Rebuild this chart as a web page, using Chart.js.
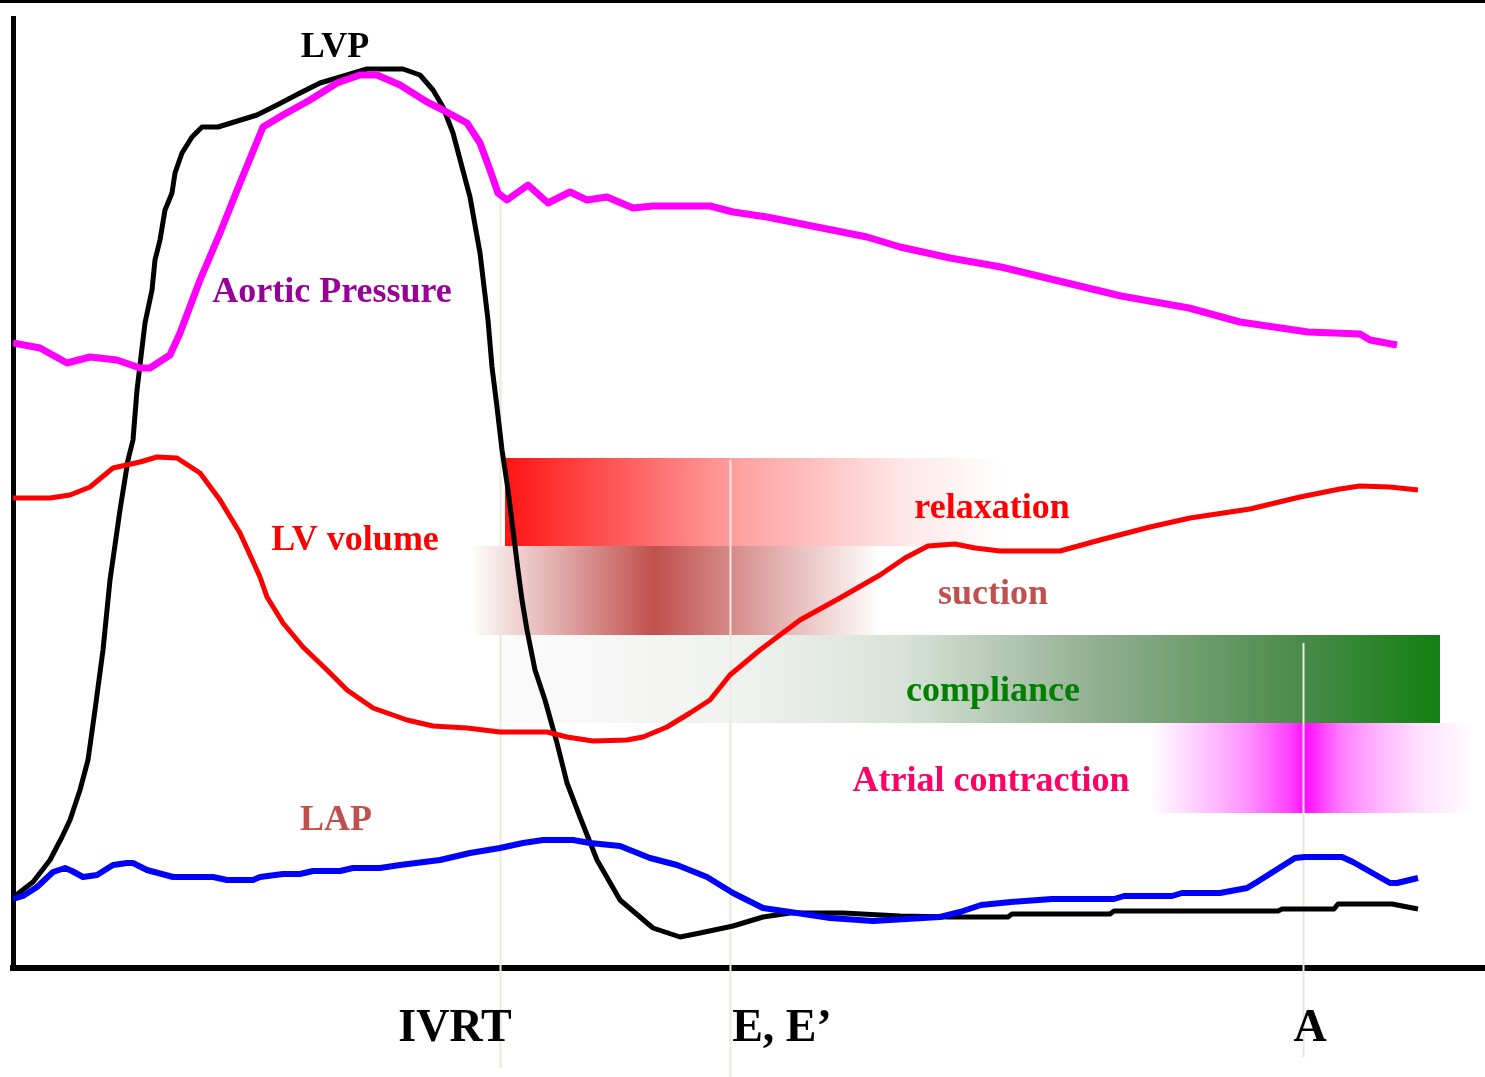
<!DOCTYPE html>
<html>
<head>
<meta charset="utf-8">
<title>Diastolic function</title>
<script src="https://cdn.jsdelivr.net/npm/chart.js@4.4.1/dist/chart.umd.min.js"></script>
<style>
    html, body { margin: 0; padding: 0; background: #fff; }
    #wrap { width: 1485px; height: 1077px; }
</style>
</head>
<body>
<div id="wrap"><canvas id="cycleChart" width="1485" height="1077"></canvas></div>
<script>
    // time axis is arbitrary units (0..736), pressure / volume axis 0..190
    var lvpT = [0.5, 3.5, 10, 18.5, 24.5, 28.5, 33.5, 37.5, 41, 45, 48.5, 53.5, 57.5, 60, 62, 66, 69.5, 71, 73.5, 76, 79.5, 81, 84.5, 89.5, 94.5, 102.5, 122, 132, 143.5, 153.5, 167, 177, 195, 203.5, 210, 215, 220, 224.5, 228.5, 233.5, 237.5, 239.5, 242, 244.5, 247.5, 250, 252.5, 254.5, 257, 261, 266, 272, 277, 283.5, 292, 303.5, 320, 333.5, 343.5, 360, 375, 388.5, 415, 443.5, 468.5, 497.5, 499.5, 548.5, 550.5, 632.5, 634.5, 660.5, 662.5, 689.5, 702.5];
    var lvpP = [14.2, 15.2, 17.2, 21.6, 26.2, 29.6, 35.6, 41.6, 51.6, 63.6, 77.6, 91.6, 101.6, 105.6, 115.6, 129, 135.6, 141.6, 145.6, 151.6, 155, 159, 163, 166.2, 168.2, 168.2, 170.6, 172.6, 175, 177, 178.6, 179.8, 179.8, 178.6, 175.6, 172.2, 167, 160.2, 154.2, 143, 129.6, 120.2, 112.2, 103.6, 95.6, 87.6, 79.6, 73.6, 67.6, 59.6, 53.6, 45, 37, 30.2, 21.6, 13.6, 8, 6.2, 7, 8.4, 10.2, 11, 11, 10.4, 10.2, 10.2, 10.8, 10.8, 11.4, 11.4, 11.8, 11.8, 12.8, 12.8, 11.8];

    var aoT = [0, 13.5, 27, 38.5, 52, 63.5, 68.5, 78.5, 83.5, 93.5, 103.5, 113.5, 125, 135, 148.5, 162, 173.5, 182, 193.5, 207, 215, 227, 233.5, 238.5, 242.5, 247, 257.5, 267.5, 278.5, 287, 297, 310, 320, 348.5, 360, 377, 402, 427, 443.5, 468.5, 494, 525, 554, 588, 613.5, 647.5, 673.5, 678.5, 692];
    var aoP = [125, 124, 121, 122.2, 121.6, 120, 120, 122.6, 127, 137.6, 147, 157, 168.2, 170.6, 173.6, 177, 178.6, 178.6, 176.6, 173.2, 171.6, 169, 165, 159.6, 155, 153.6, 156.6, 153, 155.2, 153.6, 154.2, 152, 152.4, 152.4, 151.2, 150.2, 148.2, 146.2, 144.2, 142, 140.2, 137.2, 134.4, 132, 129.2, 127.2, 126.8, 125.6, 124.6];

    var volT = [0, 18.5, 28.5, 38.5, 50, 63.5, 72, 82, 93.5, 103.5, 113.5, 123.5, 127, 135, 145, 157, 167, 180, 197, 210, 227, 243.5, 267, 277, 290, 307, 315, 327, 338.5, 348.5, 358.5, 373.5, 393.5, 413.5, 433.5, 446, 457.5, 471, 481, 493.5, 523.5, 543.5, 568.5, 588.5, 618.5, 643.5, 663.5, 673.5, 688.5, 702.5];
    var volV = [94, 94, 94.6, 96.2, 100, 101.2, 102.2, 102, 99, 93.6, 87, 78.2, 74.2, 69, 64.2, 59.6, 55.6, 52, 49.6, 48.4, 48, 47.2, 47.2, 46.2, 45.4, 45.6, 46.2, 48.2, 51, 53.6, 58.6, 63.6, 69.6, 74, 78.6, 82, 84.4, 84.8, 84, 83.4, 83.4, 85.6, 88.2, 90, 91.8, 94.2, 95.8, 96.4, 96.2, 95.6];

    var lapT = [0, 5, 12, 20, 26, 29.5, 35, 42, 50, 57, 60, 67, 80, 100, 107, 120, 123.5, 135, 143.5, 150, 163.5, 170, 183.5, 193.5, 213.5, 228.5, 243.5, 255, 265, 280, 288.5, 303.5, 318.5, 332, 347, 360, 375, 392, 408.5, 430, 463.5, 473.5, 484, 499, 519.5, 550.5, 555.5, 579.5, 584.5, 603.5, 617, 622, 641, 646, 664.5, 670, 688.5, 692, 702.5];
    var lapP = [13.8, 14.4, 16.2, 19.2, 20, 19.4, 18.2, 18.6, 20.6, 21, 21, 19.6, 18.2, 18.2, 17.6, 17.6, 18.2, 18.8, 18.8, 19.4, 19.4, 20, 20, 20.6, 21.6, 23, 24, 25, 25.6, 25.6, 25, 24.4, 22, 20.6, 18.2, 15, 12, 11, 10, 9.4, 10.2, 11.2, 12.6, 13.2, 13.8, 13.8, 14.4, 14.4, 15, 15, 16, 17.2, 22, 22.2, 22.2, 21.2, 17, 17, 18];

    // event markers: IVRT end, E wave, A wave
    var eventNames = ['IVRT', 'E, E\u2019', 'A'];
    var eventT = [243.5, 358.5, 645];
    var eventTop = [154.6, 101.6, 65];
    var eventBottom = [-20, -22, -17.8];
    var eventLabelT = [221, 384.5, 648.5];

    function toPoints(ts, vs) {
        return ts.map(function (t, i) { return { x: t, y: vs[i] }; });
    }

    // shaded phases behind the curves
    var bands = [
        { from: 246, to: 496, top: 102, bottom: 84.4,
          stops: [[0, 'rgba(255,20,20,1)'], [0.45, 'rgba(255,20,20,0.42)'], [0.8, 'rgba(255,20,20,0.1)'], [1, 'rgba(255,20,20,0)']] },
        { from: 228.5, to: 433.5, top: 84.4, bottom: 66.6,
          stops: [[0, 'rgba(192,80,77,0)'], [0.45, 'rgba(192,80,77,1)'], [1, 'rgba(192,80,77,0)']] },
        { from: 243.5, to: 713.5, top: 66.6, bottom: 49,
          stops: [[0, '#fbfbfb'], [0.25, '#f0f2ef'], [0.43, '#d8e2d8'], [0.64, '#8fae8f'], [0.85, '#4a8b4a'], [1, '#138013']] },
        { from: 568.5, to: 731, top: 49, bottom: 31,
          stops: [[0, 'rgba(255,0,255,0)'], [0.15, 'rgba(255,0,255,0.2)'], [0.31, 'rgba(255,0,255,0.45)'], [0.43, 'rgba(255,0,255,0.75)'], [0.48, 'rgba(255,0,255,0.95)'], [0.59, 'rgba(255,0,255,0.5)'], [0.71, 'rgba(255,0,255,0.28)'], [0.83, 'rgba(255,0,255,0.12)'], [1, 'rgba(255,0,255,0)']] }
    ];

    var labels = [
        { text: 'LVP', t: 161, v: 184, color: '#000000' },
        { text: 'Aortic Pressure', t: 159.5, v: 135, color: '#990099' },
        { text: 'LV volume', t: 171, v: 85.4, color: '#ff0000' },
        { text: 'LAP', t: 161.5, v: 29.4, color: '#c0504d' },
        { text: 'relaxation', t: 489.5, v: 91.8, color: '#ff0000' },
        { text: 'suction', t: 490, v: 74.6, color: '#c0504d' },
        { text: 'compliance', t: 490, v: 55.2, color: '#008000' },
        { text: 'Atrial contraction', t: 489, v: 37.2, color: '#ff0066' }
    ];

    var overlayPlugin = {
        id: 'overlay',
        beforeDatasetsDraw: function (chart) {
            var ctx = chart.ctx;
            var xs = chart.scales.x, ys = chart.scales.y;
            ctx.save();
            // frame line along the top
            ctx.fillStyle = '#000';
            ctx.fillRect(0, 0, chart.width, 3);

            bands.forEach(function (b) {
                var x0 = xs.getPixelForValue(b.from), x1 = xs.getPixelForValue(b.to);
                var y0 = ys.getPixelForValue(b.top), y1 = ys.getPixelForValue(b.bottom);
                var grad = ctx.createLinearGradient(x0, 0, x1, 0);
                b.stops.forEach(function (s) { grad.addColorStop(s[0], s[1]); });
                ctx.fillStyle = grad;
                ctx.fillRect(x0, y0, x1 - x0, y1 - y0);
            });

            ctx.strokeStyle = '#ebe8de';
            ctx.lineWidth = 2;
            eventT.forEach(function (t, i) {
                var px = Math.round(xs.getPixelForValue(t)) + 0.5;
                ctx.beginPath();
                ctx.moveTo(px, ys.getPixelForValue(eventTop[i]));
                ctx.lineTo(px, ys.getPixelForValue(eventBottom[i]));
                ctx.stroke();
            });
            ctx.restore();
        },
        afterDatasetsDraw: function (chart) {
            var ctx = chart.ctx;
            var xs = chart.scales.x, ys = chart.scales.y;
            ctx.save();
            ctx.textAlign = 'center';
            ctx.textBaseline = 'middle';
            ctx.font = 'bold 36px "Liberation Serif", "Times New Roman", serif';
            labels.forEach(function (l) {
                ctx.fillStyle = l.color;
                ctx.fillText(l.text, xs.getPixelForValue(l.t), ys.getPixelForValue(l.v));
            });
            ctx.font = 'bold 46px "Liberation Serif", "Times New Roman", serif';
            ctx.fillStyle = '#000';
            eventNames.forEach(function (name, i) {
                ctx.fillText(name, xs.getPixelForValue(eventLabelT[i]), ys.getPixelForValue(-12.2));
            });
            ctx.restore();
        }
    };

    function makeLine(label, ts, vs, color, width) {
        return {
            label: label,
            data: toPoints(ts, vs),
            borderColor: color,
            borderWidth: width,
            pointRadius: 0,
            fill: false,
            tension: 0,
            borderJoinStyle: 'round',
            borderCapStyle: 'butt'
        };
    }

    var ctx = document.getElementById('cycleChart').getContext('2d');
    var cycleChart = new Chart(ctx, {
        type: 'line',
        data: {
            datasets: [
                makeLine('Aortic Pressure', aoT, aoP, '#ff00ff', 7),
                makeLine('LV volume', volT, volV, '#ff0000', 5),
                makeLine('LAP', lapT, lapP, '#0000ff', 6),
                makeLine('LVP', lvpT, lvpP, '#000000', 5)
            ]
        },
        options: {
            responsive: false,
            animation: false,
            events: [],
            layout: { padding: { left: 13, right: 0, top: 18, bottom: 109 } },
            plugins: {
                legend: { display: false },
                tooltip: { enabled: false }
            },
            scales: {
                x: {
                    type: 'linear', min: 0, max: 736,
                    ticks: { display: false },
                    grid: { display: false, drawTicks: false },
                    border: { display: true, color: '#000', width: 6 }
                },
                y: {
                    type: 'linear', min: 0, max: 190,
                    ticks: { display: false },
                    grid: { display: false, drawTicks: false },
                    border: { display: true, color: '#000', width: 5 }
                }
            }
        },
        plugins: [overlayPlugin]
    });
</script>
</body>
</html>
